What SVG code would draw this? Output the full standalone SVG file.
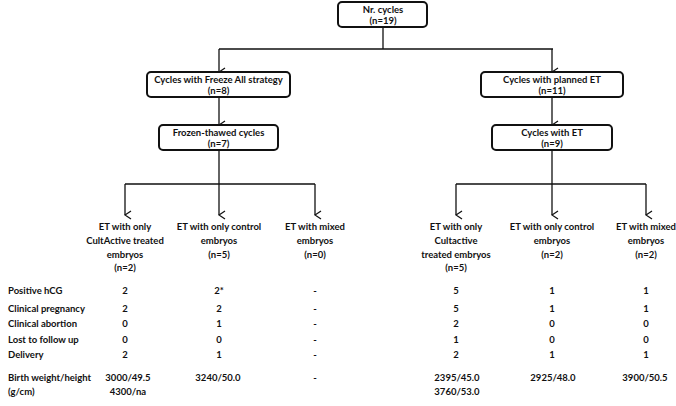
<svg xmlns="http://www.w3.org/2000/svg" width="676" height="406" viewBox="0 0 676 406">
<style>
text{font-family:Lato,"Liberation Sans",sans-serif;font-size:9.5px;font-weight:bold;fill:#111}
.c{text-anchor:middle}
.box{fill:#fff;stroke:#111;stroke-width:2}
.ln{fill:none;stroke:#111;stroke-width:1.3}
</style>
<defs>
<marker id="ah" markerWidth="10" markerHeight="8" refX="5" refY="7" orient="auto-start-reverse" markerUnits="userSpaceOnUse" viewBox="0 0 10 8">
<path d="M1,1 L5,7 L9,1" fill="none" stroke="#111" stroke-width="1.3"/>
</marker>
</defs>
<rect width="676" height="406" fill="#fff"/>
<g id="connectors">
<path class="ln" d="M383,27 V49 M219,49 H553"/>
<path class="ln" d="M219,49 V72" marker-end="url(#ah)"/>
<path class="ln" d="M552,49 V72" marker-end="url(#ah)"/>
<path class="ln" d="M219,97 V125" marker-end="url(#ah)"/>
<path class="ln" d="M552,97 V125" marker-end="url(#ah)"/>
<path class="ln" d="M219,150 V184 M125,184 H315 M456,184 H646 M552,150 V184"/>
<path class="ln" d="M125,184 V215" marker-end="url(#ah)"/>
<path class="ln" d="M219,184 V215" marker-end="url(#ah)"/>
<path class="ln" d="M315,184 V215" marker-end="url(#ah)"/>
<path class="ln" d="M456,184 V215" marker-end="url(#ah)"/>
<path class="ln" d="M552,184 V215" marker-end="url(#ah)"/>
<path class="ln" d="M646,184 V215" marker-end="url(#ah)"/>
</g>
<g id="n-total">
<rect class="box" x="338" y="2" width="89" height="25" rx="4"/>
<text class="c" x="383" y="13">Nr. cycles</text>
<text class="c" x="383" y="24">(n=19)</text>
</g>
<g id="n-freeze">
<rect class="box" x="147" y="72" width="143" height="25" rx="4"/>
<text class="c" x="218.5" y="83">Cycles with Freeze All strategy</text>
<text class="c" x="218.5" y="94">(n=8)</text>
</g>
<g id="n-frozen">
<rect class="box" x="159" y="125" width="119" height="25" rx="4"/>
<text class="c" x="218.5" y="136">Frozen-thawed cycles</text>
<text class="c" x="218.5" y="147">(n=7)</text>
</g>
<g id="n-planned">
<rect class="box" x="481" y="72" width="142" height="25" rx="4"/>
<text class="c" x="552" y="83">Cycles with planned ET</text>
<text class="c" x="552" y="94">(n=11)</text>
</g>
<g id="n-et">
<rect class="box" x="492" y="125" width="120" height="25" rx="4"/>
<text class="c" x="552" y="136">Cycles with ET</text>
<text class="c" x="552" y="147">(n=9)</text>
</g>
<g id="n-f-cult">
<text class="c" x="125" y="229.5">ET with only</text>
<text class="c" x="125" y="243.5">CultActive treated</text>
<text class="c" x="125" y="257.5">embryos</text>
<text class="c" x="125" y="271">(n=2)</text>
</g>
<g id="n-f-control">
<text class="c" x="219" y="229.5">ET with only control</text>
<text class="c" x="219" y="243.5">embryos</text>
<text class="c" x="219" y="257.5">(n=5)</text>
</g>
<g id="n-f-mixed">
<text class="c" x="315" y="229.5">ET with mixed</text>
<text class="c" x="315" y="243.5">embryos</text>
<text class="c" x="315" y="257.5">(n=0)</text>
</g>
<g id="n-e-cult">
<text class="c" x="456" y="229.5">ET with only</text>
<text class="c" x="456" y="243.5">Cultactive</text>
<text class="c" x="456" y="257.5">treated embryos</text>
<text class="c" x="456" y="271">(n=5)</text>
</g>
<g id="n-e-control">
<text class="c" x="552" y="229.5">ET with only control</text>
<text class="c" x="552" y="243.5">embryos</text>
<text class="c" x="552" y="257.5">(n=2)</text>
</g>
<g id="n-e-mixed">
<text class="c" x="646" y="229.5">ET with mixed</text>
<text class="c" x="646" y="243.5">embryos</text>
<text class="c" x="646" y="257.5">(n=2)</text>
</g>
<g id="table">
<text x="8" y="293.5">Positive hCG</text>
<text x="8" y="311.5">Clinical pregnancy</text>
<text x="8" y="326.5">Clinical abortion</text>
<text x="8" y="342.5">Lost to follow up</text>
<text x="8" y="357.5">Delivery</text>
<text x="8" y="380.5">Birth weight/height</text>
<text x="8" y="394.5">(g/cm)</text>
<g class="c">
<text class="c" x="125" y="293.5">2</text><text class="c" x="219" y="293.5">2*</text><text class="c" x="315" y="293.5">-</text>
<text class="c" x="456" y="293.5">5</text><text class="c" x="552" y="293.5">1</text><text class="c" x="646" y="293.5">1</text>
<text class="c" x="125" y="311.5">2</text><text class="c" x="219" y="311.5">2</text><text class="c" x="315" y="311.5">-</text>
<text class="c" x="456" y="311.5">5</text><text class="c" x="552" y="311.5">1</text><text class="c" x="646" y="311.5">1</text>
<text class="c" x="125" y="326.5">0</text><text class="c" x="219" y="326.5">1</text><text class="c" x="315" y="326.5">-</text>
<text class="c" x="456" y="326.5">2</text><text class="c" x="552" y="326.5">0</text><text class="c" x="646" y="326.5">0</text>
<text class="c" x="125" y="342.5">0</text><text class="c" x="219" y="342.5">0</text><text class="c" x="315" y="342.5">-</text>
<text class="c" x="456" y="342.5">1</text><text class="c" x="552" y="342.5">0</text><text class="c" x="646" y="342.5">0</text>
<text class="c" x="125" y="357.5">2</text><text class="c" x="219" y="357.5">1</text><text class="c" x="315" y="357.5">-</text>
<text class="c" x="456" y="357.5">2</text><text class="c" x="552" y="357.5">1</text><text class="c" x="646" y="357.5">1</text>
<text class="c" x="128" y="380.5">3000/49.5</text><text class="c" x="218" y="380.5">3240/50.0</text><text class="c" x="315" y="380.5">-</text>
<text class="c" x="457" y="380.5">2395/45.0</text><text class="c" x="553" y="380.5">2925/48.0</text><text class="c" x="645" y="380.5">3900/50.5</text>
<text class="c" x="128" y="394.5">4300/na</text>
<text class="c" x="457" y="394.5">3760/53.0</text>
</g>
</g>
</svg>
